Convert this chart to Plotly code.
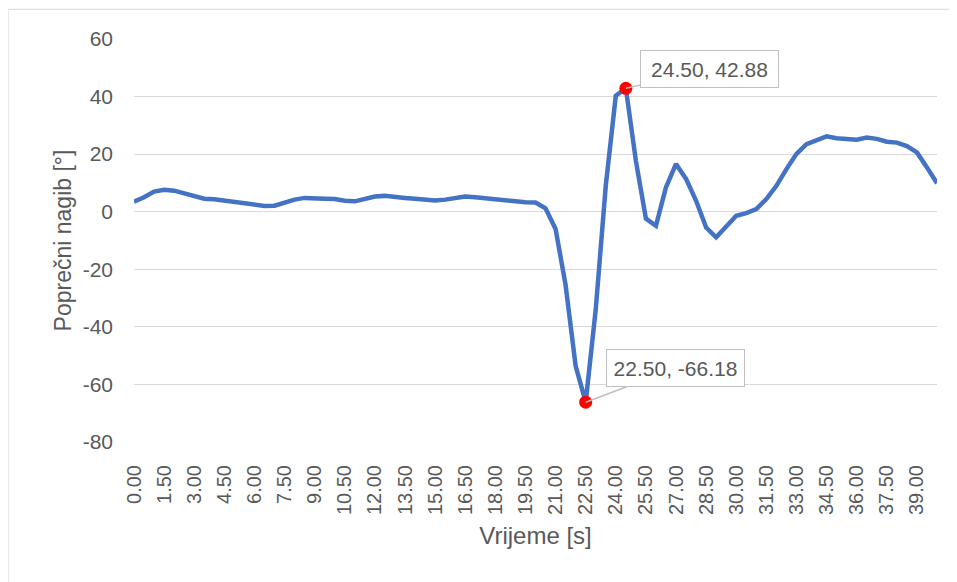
import plotly.graph_objects as go

# Time categories [s]
vrijeme = [0.0, 0.5, 1.0, 1.5, 2.0, 2.5, 3.0, 3.5, 4.0, 4.5,
           5.0, 5.5, 6.0, 6.5, 7.0, 7.5, 8.0, 8.5, 9.0, 9.5,
           10.0, 10.5, 11.0, 11.5, 12.0, 12.5, 13.0, 13.5, 14.0, 14.5,
           15.0, 15.5, 16.0, 16.5, 17.0, 17.5, 18.0, 18.5, 19.0, 19.5,
           20.0, 20.5, 21.0, 21.5, 22.0, 22.5, 23.0, 23.5, 24.0, 24.5,
           25.0, 25.5, 26.0, 26.5, 27.0, 27.5, 28.0, 28.5, 29.0, 29.5,
           30.0, 30.5, 31.0, 31.5, 32.0, 32.5, 33.0, 33.5, 34.0, 34.5,
           35.0, 35.5, 36.0, 36.5, 37.0, 37.5, 38.0, 38.5, 39.0, 39.5,
           40.0]

# Transverse inclination [deg]
nagib = [3.5, 5.0, 7.0, 7.6, 7.3, 6.4, 5.2, 4.5, 4.3, 3.8,
         3.4, 2.9, 2.4, 2.0, 2.1, 3.2, 4.2, 4.8, 4.5, 4.5,
         4.4, 3.8, 3.6, 4.5, 5.3, 5.5, 5.3, 4.8, 4.5, 4.2,
         3.9, 4.2, 4.8, 5.3, 5.0, 4.6, 4.3, 3.8, 3.4, 3.3,
         3.2, 1.2, -6.0, -25.5, -53.6, -66.18, -34.0, 9.0, 40.3, 42.88,
         17.7, -2.4, -4.9, 8.5, 16.6, 11.4, 3.8, -5.5, -8.9, -5.2,
         -1.4, -0.5, 0.9, 4.4, 9.0, 14.8, 20.1, 23.5, 25.0, 26.2,
         25.5, 25.3, 25.0, 25.8, 25.3, 24.3, 24.0, 22.8, 20.6, 15.4,
         9.9]

# Tick labels (every third category)
tick_vals = vrijeme[::3]
tick_text = [f"{v:.2f}" for v in tick_vals]
y_ticks = [-80, -60, -40, -20, 0, 20, 40, 60]
y_tick_text = [str(v) for v in y_ticks]

i_max = nagib.index(max(nagib))
i_min = nagib.index(min(nagib))

FONT = "Liberation Sans"
GREY = "#595959"

fig = go.Figure()
fig.add_trace(go.Scatter(
    x=vrijeme, y=nagib, mode="lines",
    line=dict(color="#4472C4", width=4.5),
    hoverinfo="skip", showlegend=False,
))
fig.add_trace(go.Scatter(
    x=[vrijeme[i_max], vrijeme[i_min]],
    y=[nagib[i_max], nagib[i_min]],
    mode="markers",
    marker=dict(color="#FF0000", size=13, line=dict(width=0)),
    showlegend=False,
))

for idx, ax, ay in [(i_max, 84, -19), (i_min, 90, -34)]:
    fig.add_annotation(
        x=vrijeme[idx], y=nagib[idx], xref="x", yref="y",
        text=f"{vrijeme[idx]:.2f}, {nagib[idx]:.2f}",
        showarrow=True, arrowhead=0, arrowwidth=1.5, arrowcolor="#BFBFBF",
        ax=ax, ay=ay, axref="pixel", ayref="pixel",
        bgcolor="white", bordercolor="#BFBFBF", borderwidth=1,
        borderpad=3, width=131, height=30,
        font=dict(family=FONT, size=21, color=GREY),
    )

fig.add_shape(type="rect", xref="paper", yref="paper",
              x0=-0.1568, x1=1.2, y0=-0.6, y1=1.0737,
              line=dict(color="#D9D9D9", width=1), fillcolor="rgba(0,0,0,0)",
              layer="below")

fig.update_layout(
    width=957, height=582,
    margin=dict(l=126, r=28, t=31, b=148),
    paper_bgcolor="white", plot_bgcolor="white",
    font=dict(family=FONT, size=21, color=GREY),
    xaxis=dict(
        range=[vrijeme[0], vrijeme[-1]],
        tickmode="array", tickvals=tick_vals, ticktext=tick_text,
        tickangle=-90, showgrid=False, zeroline=False, showline=False,
        ticks="", ticklabelstandoff=18,
        tickfont=dict(family=FONT, size=20, color=GREY),
        title=dict(text="Vrijeme [s]", font=dict(family=FONT, size=24, color=GREY),
                   standoff=13),
    ),
    yaxis=dict(
        range=[-80, 60], tickmode="array", tickvals=y_ticks, ticktext=y_tick_text,
        showgrid=True, gridcolor="#D9D9D9", gridwidth=1,
        zeroline=False, showline=False, ticks="", ticklabelstandoff=20,
        tickfont=dict(family=FONT, size=21, color=GREY),
        title=dict(text="Poprečni nagib [°]", font=dict(family=FONT, size=23, color=GREY),
                   standoff=4),
    ),
)

fig.write_html("out.html")
